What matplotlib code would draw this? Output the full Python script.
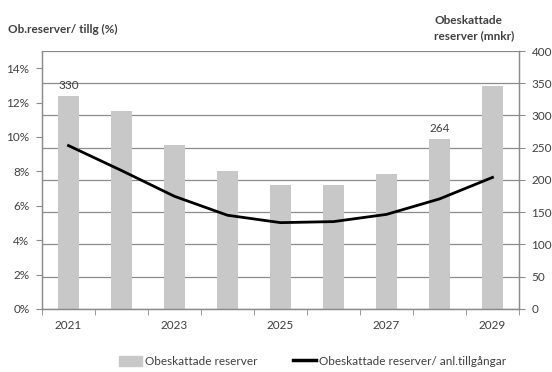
import matplotlib.pyplot as plt
import numpy as np
from matplotlib.lines import Line2D
from matplotlib.patches import Patch

years = [2021, 2022, 2023, 2024, 2025, 2026, 2027, 2028, 2029]
reserves_mnkr = [330, 307, 255, 214, 192, 192, 210, 264, 346]
reserves_share_pct = [9.5, 8.05, 6.55, 5.45, 5.02, 5.08, 5.5, 6.4, 7.65]
labelled_years = [2021, 2028]

plt.rcParams['font.family'] = ['Lato', 'DejaVu Sans']

grid_color = '#8c8c8c'
text_color = '#404040'
bar_color = '#c8c8c8'
fs = 8.5

fig = plt.figure(figsize=(5.52, 3.72), dpi=100)
ax = fig.add_axes([0.0761, 0.1694, 0.8641, 0.6935])
x = np.arange(len(years))

# bars on the primary axes, scale shown on the right
ax.bar(x, reserves_mnkr, width=0.38, color=bar_color, zorder=2)
ax.set_ylim(0, 400)
ax.set_yticks(np.arange(0, 401, 50))
ax.grid(axis='y', color=grid_color, linewidth=0.9, zorder=0)
ax.set_axisbelow(True)
for yr in labelled_years:
    i = years.index(yr)
    ax.text(x[i], reserves_mnkr[i] + 8, str(reserves_mnkr[i]), ha='center',
            va='bottom', fontsize=fs, color=text_color, zorder=3)

ax.set_xlim(-0.5, len(years) - 0.5)
ax.set_xticks(x[::2])
ax.set_xticklabels([str(y) for y in years[::2]])
ax.set_xticks(np.arange(-0.5, len(years), 1), minor=True)
ax.tick_params(axis='x', which='major', length=0, pad=8, labelsize=fs,
               labelcolor=text_color)
ax.tick_params(axis='x', which='minor', length=4, color=grid_color)

# share line on the twin axes, scale shown on the left
ax2 = ax.twinx()
ax2.plot(x, reserves_share_pct, color='black', linewidth=2.0, zorder=4)
ax2.set_ylim(0, 15)
ax2.set_yticks(np.arange(0, 15, 2))
ax2.set_yticklabels([f'{v}%' for v in range(0, 15, 2)])

ax.yaxis.tick_right()
ax2.yaxis.tick_left()
for a in (ax, ax2):
    a.tick_params(axis='y', length=4, color=grid_color, labelsize=fs,
                  labelcolor=text_color, pad=5)
    for side in ('left', 'right', 'bottom', 'top'):
        a.spines[side].set_color(grid_color)
        a.spines[side].set_linewidth(0.9)
    a.spines['top'].set_visible(False)

fig.text(0.015, 0.905, 'Ob.reserver/ tillg (%)', fontsize=fs,
         fontweight='bold', color=text_color, ha='left', va='bottom')
fig.text(0.787, 0.89, 'Obeskattade\nreserver (mnkr)', fontsize=fs,
         fontweight='bold', color=text_color, ha='left', va='bottom',
         linespacing=1.4)

handles = [Patch(color=bar_color), Line2D([], [], color='black', linewidth=2.5)]
fig.legend(handles, ['Obeskattade reserver',
                     'Obeskattade reserver/ anl.tillgångar'],
           loc='lower left', bbox_to_anchor=(0.2, -0.008), ncol=2,
           frameon=False, fontsize=fs, handlelength=2.0, handleheight=0.9,
           handletextpad=0.2, columnspacing=3.0, borderaxespad=0.3,
           labelcolor=text_color)

fig.savefig('out.png', dpi=100)
